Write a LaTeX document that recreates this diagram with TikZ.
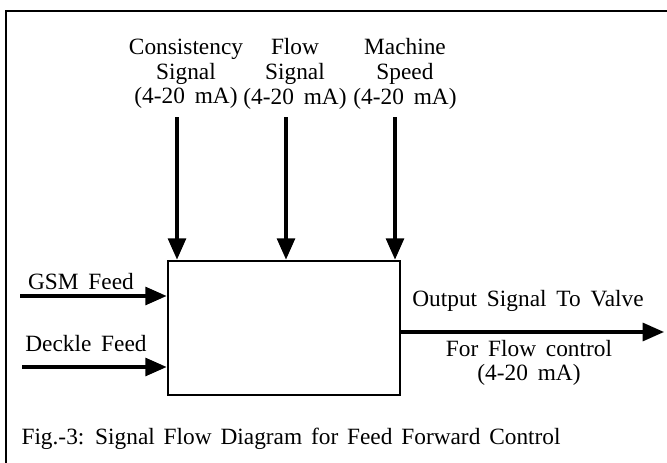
\documentclass[tikz,border=0pt]{standalone}
\usepackage{fontspec}
\setmainfont{Liberation Serif}
\usepackage{tikz}
\usetikzlibrary{arrows.meta,positioning,calc}
\newcommand{\lblfont}{\fontsize{17.5}{18.5}\selectfont\spaceskip=0.42em plus 0.1em\relax}
\newcommand{\capfont}{\fontsize{17.5}{18.5}\selectfont\spaceskip=0.38em plus 0.1em\relax}

\begin{document}
\begin{tikzpicture}[x=0.75pt, y=-0.75pt, line width=2.3pt, >={Triangle[length=16pt,width=13.5pt]}, every node/.style={inner sep=0pt, align=center, font=\lblfont}]

\useasboundingbox (0,0) rectangle (667,463);
\draw[line width=2.2pt] (667,11) -| (6,463);

\node (ctrl) [draw, line width=2.1pt, minimum width=174pt, minimum height=100.5pt] at (284,328) {};

\node (cons) at (186,74) {Consistency\\Signal\\(4-20 mA)};
\node (flow) at (295,74) {Flow\\Signal\\(4-20 mA)};
\node (speed) at (405,74) {Machine\\Speed\\(4-20 mA)};
\node (gsm) at (81,282) {GSM Feed};
\node (deckle) at (86,344) {Deckle Feed};
\node (out) at (528,301) {Output Signal To Valve};
\node (forflow) at (529,363) {For Flow control\\(4-20 mA)};
\node (cap) [anchor=west, font=\capfont] at (20,439) {Fig.-3: Signal Flow Diagram for Feed Forward Control};

\coordinate (cin) at (177,261);
\coordinate (fin) at (286,261);
\coordinate (sin) at (395,261);
\coordinate (gsmin) at (20,296);
\coordinate (decklein) at (22,367);
\coordinate (valve) at (664,332);

\draw[->, shorten <=5pt] (cons.south -| cin) -- (cin |- ctrl.north);
\draw[->, shorten <=5pt] (flow.south -| fin) -- (fin |- ctrl.north);
\draw[->, shorten <=5pt] (speed.south -| sin) -- (sin |- ctrl.north);
\draw[->] (gsmin) -- (gsmin -| ctrl.west);
\draw[->] (decklein) -- (decklein -| ctrl.west);
\draw[->] (valve -| ctrl.east) -- (valve);

\end{tikzpicture}
\end{document}
